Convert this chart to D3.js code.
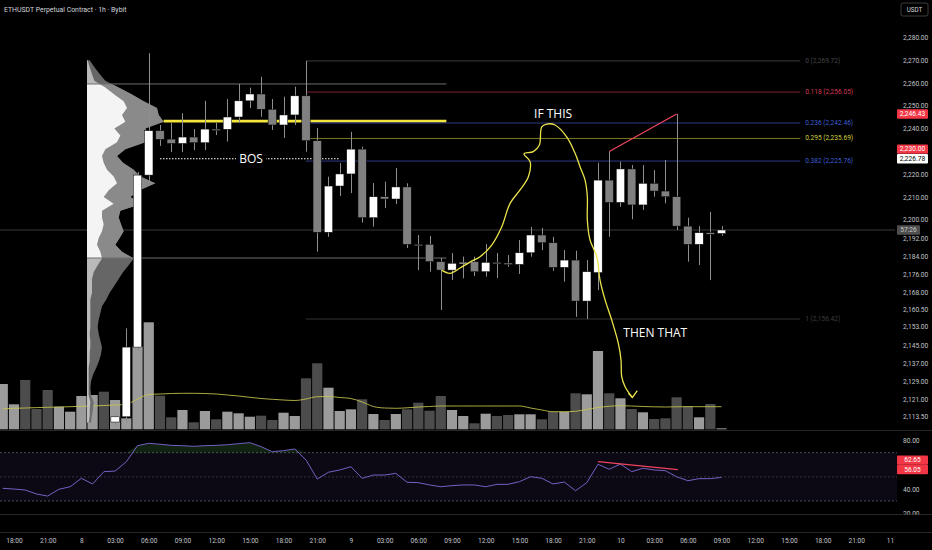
<!DOCTYPE html>
<html>
<head>
<meta charset="utf-8">
<script src="https://cdn.jsdelivr.net/npm/d3@7"></script>
<style>
  html, body { margin: 0; padding: 0; background: #000; overflow: hidden; }
  svg { display: block; font-family: "Open Sans", "Noto Sans", sans-serif; }
</style>
</head>
<body>
<script>
// ---- data (time index = hours after 7th 18:00) ----
var candleStart = 9;
var opens  = [2111.2,2113.5,2144.1,2219.6,2239.1,2235.4,2233.5,2236.3,2233.8,2239.8,2239.7,2245.1,2252.2,2255.2,2248.5,2241.6,2246.0,2254.4,2234.7,2194.5,2214.8,2220.1,2231.0,2200.9,2210.1,2209.1,2214.4,2189.2,2189.2,2181.6,2177.9,2180.9,2181.6,2177.2,2181.3,2181.0,2180.4,2185.5,2193.3,2189.9,2179.1,2182.3,2164.3,2176.8,2217.4,2207.6,2222.3,2206.5,2216.0,2212.6,2210.1,2197.2,2189.2,2194.3,2194.0];
var highs  = [2115.0,2152.3,2221.0,2273.1,2241.6,2242.5,2246.8,2239.8,2252.2,2242.5,2253.0,2259.6,2258.0,2262.8,2253.0,2254.0,2258.4,2269.72,2240.3,2218.9,2224.9,2238.6,2232.1,2216.1,2216.7,2222.7,2216.0,2193.3,2192.9,2183.2,2185.4,2183.8,2183.8,2189.3,2185.4,2184.5,2191.1,2196.9,2196.4,2192.5,2186.7,2186.4,2182.3,2225.0,2230.0,2225.5,2224.0,2224.0,2221.8,2226.2,2246.43,2200.9,2197.2,2203.5,2197.2];
var lows   = [2109.5,2111.0,2142.5,2216.1,2232.4,2229.7,2229.7,2230.6,2230.6,2237.2,2234.3,2242.6,2249.0,2245.2,2239.4,2235.9,2241.6,2229.9,2186.0,2192.5,2210.4,2211.7,2198.7,2197.0,2205.1,2206.9,2187.6,2177.9,2177.2,2160.4,2173.5,2174.3,2175.3,2175.0,2174.4,2179.4,2176.2,2183.8,2186.7,2177.6,2172.8,2157.4,2156.42,2169.1,2192.5,2205.7,2200.2,2204.3,2210.1,2207.2,2195.5,2181.6,2180.1,2173.5,2193.0];
var closes = [2113.5,2144.1,2219.6,2239.1,2235.3,2233.5,2236.3,2233.8,2239.8,2239.7,2245.1,2252.2,2255.2,2248.5,2241.6,2246.0,2254.4,2234.7,2194.5,2214.8,2220.1,2231.0,2200.9,2210.1,2209.1,2214.4,2189.2,2189.0,2181.6,2177.9,2180.9,2181.3,2177.2,2181.3,2181.1,2180.6,2185.5,2193.3,2189.9,2179.1,2182.3,2164.3,2177.2,2217.4,2207.6,2222.3,2206.5,2216.0,2212.6,2210.1,2197.2,2189.2,2194.3,2194.2,2195.5];

var volStart = -1;
var volumes = [4530,2500,4930,2030,3930,2260,1760,3330,3430,3760,2930,1100,8260,10700,3360,1200,1930,700,1830,1000,1760,1600,1260,1360,930,1660,1330,5100,6600,4160,1830,2000,3000,1530,930,1530,2000,2660,1860,3330,1930,1330,600,1560,1330,1430,1500,1500,1000,1760,1760,3600,3500,7830,3600,3100,2030,1700,1030,1100,3200,2330,1200,2530,100];
var earlyVolUp = [1,1,0,0,0,1,1,1,1,0];
var volMA = [2050,2100,2130,2170,2200,2230,2260,2300,2330,2380,2430,2500,3030,3480,3530,3580,3600,3600,3580,3530,3430,3330,3200,3080,3000,2930,2880,3030,3260,3280,3180,3080,2730,2280,2130,2100,2150,2230,2280,2330,2330,2330,2330,2330,2330,2330,2330,2130,1930,1760,1760,1800,1980,2180,2300,2360,2330,2280,2250,2230,2250,2260,2260,2260,2260];

var rsiStart = -1;
var rsiVals = [40.5,39.9,39.1,35.8,34.1,39.7,41.8,48.8,44.1,54.3,54.8,62.5,75.8,77.8,77.0,76.1,75.8,75.3,75.8,76.1,76.6,77.5,78.3,75.0,70.8,71.7,73.1,64.0,48.2,53.8,55.7,58.4,48.8,51.5,51.5,52.9,45.5,45.2,43.3,41.8,42.7,43.3,43.3,41.8,43.8,43.8,46.0,50.1,48.8,44.1,45.7,38.5,45.2,60.4,56.3,60.6,54.3,57.1,55.7,55.1,50.1,46.8,48.5,48.5,49.6];

// fixed range volume profile (rows of 3 USDT)
var profStartIdx = 6.5, profEndIdx = 38.5;
var profRows = d3.range(2270, 2110, -3);
var profUp    = [2,8,15,22,55,82,110,120,105,115,82,100,90,55,45,50,60,80,90,65,50,80,45,45,50,45,35,30,40,45,32,20,15,15,15,10,10,10,10,10,8,10,10,8,8,5,5,5,5,5,10,8,8,5];
var profTotal = [8,22,38,55,95,135,170,210,215,230,175,185,175,115,90,108,140,160,205,158,130,165,100,95,102,110,98,85,105,140,125,108,95,82,68,58,45,40,35,32,35,40,45,42,36,28,18,12,10,12,20,18,15,12];
var vaHigh = 2259.6, vaLow = 2183.2, pocPrice = 2243.3;

// fib retracement
var fibStartIdx = 26, fibEndIdx = 70;
var fibLevels = ["0", "0.118", "0.236", "0.295", "0.382", "1"];
var fibPrices = [2269.72, 2256.05, 2242.46, 2235.69, 2225.76, 2156.42];
var fibLineColors  = ["#3c3c3c", "#7d2334", "#2c3a86", "#7a7a24", "#2c3a86", "#333333"];
var fibLabelColors = ["#444444", "#d23a55", "#3d5fd4", "#d2d03c", "#3d5fd4", "#3e3e3e"];

// drawings
var bosIdx = [13, 29], bosPrice = 2226.78, bosTextIdx = 21.1;
var trendIdx = [53, 59], trendPrice = [2230.00, 2246.43];
var rsiTrendIdx = [52, 59.1], rsiTrendVal = [62.65, 56.05];
var curveIdx   = [38.08,38.82,39.72,40.6,41.5,42.54,43.43,44.17,45.06,45.8,45.95,45.41,46.24,46.78,46.99,47.43,48.17,49.21,49.96,50.4,50.85,51.05,51.05,51.29,51.89,52.18,52.63,53.22,53.81,54.05,54.11,54.41,55.06];
var curvePrice = [2177.9,2176.5,2178.8,2181.4,2183.8,2188.9,2196.9,2207.2,2213.1,2218.9,2225.5,2228.9,2229.9,2232.8,2240.8,2242.0,2241.6,2236.4,2229.2,2223.3,2217.4,2210.1,2199.9,2191.1,2183.8,2173.5,2164.8,2156.0,2145.75,2138.4,2131.1,2126.7,2122.0];
var arrowIdx = [54.7, 55.06, 55.5], arrowPrice = [2123.8, 2122.0, 2125.0];
var notes = [{t: "IF THIS", i: 48.0, p: 2246.8}, {t: "THEN THAT", i: 57.1, p: 2150.3}];

// axes
var priceTicks = [2280,2270,2260,2250,2240,2220,2210,2200,2192,2184,2176,2168,2160.5,2153,2145,2137,2129,2121,2113.5];
var rsiTicks = [80, 40, 20];
var timeTickIdx = [0,3,6,9,12,15,18,21,24,27,30,33,36,39,42,45,48,51,54,57,60,63,66,69,72,75,78];
var timeTickLabels = ["18:00","21:00","8","03:00","06:00","09:00","12:00","15:00","18:00","21:00","9","03:00","06:00","09:00","12:00","15:00","18:00","21:00","10","03:00","06:00","09:00","12:00","15:00","18:00","21:00","11"];

// ---- setup ----
var W = 932, H = 550;
var svg = d3.select("body").append("svg").attr("width", W).attr("height", H);
svg.append("rect").attr("width", W).attr("height", H).attr("fill", "#000");

var x = d3.scaleLinear().domain([0, 78]).range([14, 890]);
var y = d3.scaleLinear().domain([2113.5, 2280]).range([416.8, 37.5]);
var yVol = d3.scaleLinear().domain([0, 10000]).range([429.3, 329.3]);
var yRsi = d3.scaleLinear().domain([30, 70]).range([501, 452.7]);
var vpX = d3.scaleLinear().domain([0, 240]).range([x(profStartIdx), x(profStartIdx) + 80]);

var defs = svg.append("defs");
defs.append("clipPath").attr("id", "mainClip").append("rect")
  .attr("x", 0).attr("y", 0).attr("width", 895).attr("height", 430);
defs.append("clipPath").attr("id", "rsiClip").append("rect")
  .attr("x", 0).attr("y", 431).attr("width", 897).attr("height", 83.5);
defs.append("clipPath").attr("id", "rsiAxisClip").append("rect")
  .attr("x", 895).attr("y", 431).attr("width", 37).attr("height", 83.5);
defs.append("clipPath").attr("id", "vaClip").append("rect")
  .attr("x", 0).attr("y", y(vaHigh)).attr("width", 895).attr("height", y(vaLow) - y(vaHigh));

var candles = opens.map(function(o, k) {
  return {i: candleStart + k, o: o, h: highs[k], l: lows[k], c: closes[k]};
});
var vols = volumes.map(function(v, k) {
  var i = volStart + k;
  var c = candles.find(function(d) { return d.i === i; });
  return {i: i, v: v, up: c ? c.c >= c.o : earlyVolUp[k] === 1};
});

// panel separators
[430.5, 514.5, 532.5].forEach(function(yy) {
  svg.append("line").attr("x1", 0).attr("x2", W).attr("y1", yy).attr("y2", yy)
    .attr("stroke", "#262626").attr("stroke-width", 1);
});

var main = svg.append("g").attr("clip-path", "url(#mainClip)");

// last price line
var lastClose = closes[closes.length - 1];
main.append("line").attr("x1", 0).attr("x2", 895)
  .attr("y1", y(lastClose)).attr("y2", y(lastClose))
  .attr("stroke", "#3a3a3a").attr("stroke-width", 1);

// volume bars
main.selectAll(".vol").data(vols).enter().append("rect")
  .attr("x", function(d) { return x(d.i) - 5.1; })
  .attr("y", function(d) { return yVol(d.v); })
  .attr("width", 10.2)
  .attr("height", function(d) { return yVol(0) - yVol(d.v); })
  .attr("fill", function(d) { return d.up ? "#9b9b9b" : "#4c4c4c"; });

// volume moving average
main.append("path")
  .datum(volMA)
  .attr("fill", "none").attr("stroke", "#c9c64e").attr("stroke-opacity", 0.85).attr("stroke-width", 1)
  .attr("d", d3.line()
    .x(function(d, k) { return x(volStart + k); })
    .y(function(d) { return yVol(d); })
    .curve(d3.curveMonotoneX));

// volume profile
function drawProfile(g, upColor, downColor) {
  g.append("path").datum(profRows)
    .attr("fill", downColor)
    .attr("d", d3.area()
      .y(function(p) { return y(p); })
      .x0(vpX(0))
      .x1(function(p, k) { return vpX(profTotal[k]); }));
  g.append("path").datum(profRows)
    .attr("fill", upColor)
    .attr("d", d3.area()
      .y(function(p) { return y(p); })
      .x0(vpX(0))
      .x1(function(p, k) { return vpX(profUp[k]); }));
}
drawProfile(main.append("g").attr("opacity", 0.95), "#c4c4c4", "#6c6c6c");
drawProfile(main.append("g").attr("clip-path", "url(#vaClip)"), "#f4f4f4", "#8a8a8a");

// value area high / low and POC
[vaHigh, vaLow].forEach(function(p) {
  main.append("line")
    .attr("x1", vpX(0)).attr("x2", x(profEndIdx))
    .attr("y1", y(p)).attr("y2", y(p))
    .attr("stroke", "#6e6e6e").attr("stroke-width", 1);
});
main.append("line")
  .attr("x1", vpX(d3.max(profTotal))).attr("x2", x(profEndIdx))
  .attr("y1", y(pocPrice)).attr("y2", y(pocPrice))
  .attr("stroke", "#f3e63c").attr("stroke-width", 2.6);

// fib retracement
fibPrices.forEach(function(p, k) {
  main.append("line")
    .attr("x1", x(fibStartIdx)).attr("x2", x(fibEndIdx))
    .attr("y1", y(p)).attr("y2", y(p))
    .attr("stroke", fibLineColors[k]).attr("stroke-width", 1);
  main.append("text")
    .attr("x", x(fibEndIdx) + 5).attr("y", y(p))
    .attr("dominant-baseline", "middle")
    .attr("font-family", "Roboto").attr("font-size", 6.6)
    .attr("fill", fibLabelColors[k])
    .text(fibLevels[k] + " (" + d3.format(",.2f")(p) + ")");
});

// BOS
main.append("line")
  .attr("x1", x(bosIdx[0])).attr("x2", x(bosIdx[1]))
  .attr("y1", y(bosPrice)).attr("y2", y(bosPrice))
  .attr("stroke", "#ffffff").attr("stroke-width", 1.1).attr("stroke-dasharray", "1.5,1.5");
var bosW = 30;
main.append("rect")
  .attr("x", x(bosTextIdx) - bosW / 2).attr("y", y(bosPrice) - 8)
  .attr("width", bosW).attr("height", 16).attr("fill", "#000");
main.append("text")
  .attr("x", x(bosTextIdx)).attr("y", y(bosPrice))
  .attr("text-anchor", "middle").attr("dominant-baseline", "central")
  .attr("font-size", 12).attr("fill", "#ffffff").text("BOS");

// candles
main.selectAll(".wick").data(candles).enter().append("line")
  .attr("x1", function(d) { return Math.round(x(d.i)) + 0.5; })
  .attr("x2", function(d) { return Math.round(x(d.i)) + 0.5; })
  .attr("y1", function(d) { return y(d.h); })
  .attr("y2", function(d) { return y(d.l); })
  .attr("stroke", "#8e8e8e").attr("stroke-width", 1);
main.selectAll(".body").data(candles).enter().append("rect")
  .attr("x", function(d) { return x(d.i) - 4.2; })
  .attr("y", function(d) { return y(Math.max(d.o, d.c)); })
  .attr("width", 8.4)
  .attr("height", function(d) { return Math.max(1.5, Math.abs(y(d.o) - y(d.c))); })
  .attr("fill", function(d) { return d.c >= d.o ? "#ffffff" : "#808080"; })
  .attr("stroke", "#000").attr("stroke-width", 0.5);

// trend line
main.append("line")
  .attr("x1", x(trendIdx[0])).attr("y1", y(trendPrice[0]))
  .attr("x2", x(trendIdx[1])).attr("y2", y(trendPrice[1]))
  .attr("stroke", "#ef4560").attr("stroke-width", 1.2);

// freehand projection
main.append("path")
  .datum(curveIdx)
  .attr("fill", "none").attr("stroke", "#ebe34a").attr("stroke-width", 1.3)
  .attr("d", d3.line()
    .x(function(d) { return x(d); })
    .y(function(d, k) { return y(curvePrice[k]); })
    .curve(d3.curveCatmullRom));
main.append("path")
  .datum(arrowIdx)
  .attr("fill", "none").attr("stroke", "#ebe34a").attr("stroke-width", 1.3)
  .attr("d", d3.line()
    .x(function(d) { return x(d); })
    .y(function(d, k) { return y(arrowPrice[k]); }));

main.selectAll(".note").data(notes).enter().append("text")
  .attr("x", function(d) { return x(d.i); })
  .attr("y", function(d) { return y(d.p); })
  .attr("text-anchor", "middle").attr("dominant-baseline", "central")
  .attr("font-size", 12).attr("fill", "#ffffff")
  .text(function(d) { return d.t; });

// ---- RSI pane ----
var rsi = svg.append("g").attr("clip-path", "url(#rsiClip)");
rsi.append("rect")
  .attr("x", 0).attr("y", yRsi(70)).attr("width", 897).attr("height", yRsi(30) - yRsi(70))
  .attr("fill", "#7e57c2").attr("fill-opacity", 0.1);
[70, 50, 30].forEach(function(v) {
  rsi.append("line").attr("x1", 0).attr("x2", 897)
    .attr("y1", yRsi(v)).attr("y2", yRsi(v))
    .attr("stroke", "#787b86").attr("stroke-opacity", v === 50 ? 0.35 : 0.6)
    .attr("stroke-dasharray", "2,2").attr("stroke-width", 1);
});
rsi.append("path")
  .datum(rsiVals)
  .attr("fill", "#4caf50").attr("fill-opacity", 0.2)
  .attr("d", d3.area()
    .x(function(d, k) { return x(rsiStart + k); })
    .y0(yRsi(70))
    .y1(function(d) { return yRsi(Math.max(70, d)); }));
rsi.append("path")
  .datum(rsiVals)
  .attr("fill", "none").attr("stroke", "#7460c4").attr("stroke-width", 1)
  .attr("d", d3.line()
    .x(function(d, k) { return x(rsiStart + k); })
    .y(function(d) { return yRsi(d); }));
rsi.append("line")
  .attr("x1", x(rsiTrendIdx[0])).attr("y1", yRsi(rsiTrendVal[0]))
  .attr("x2", x(rsiTrendIdx[1])).attr("y2", yRsi(rsiTrendVal[1]))
  .attr("stroke", "#ef4560").attr("stroke-width", 1.3);

// ---- axes ----
function styleAxis(g) {
  g.select(".domain").remove();
  g.attr("font-family", "Roboto").attr("font-size", 6.6);
  g.selectAll("text").attr("fill", "#c3c5cb");
}
svg.append("g")
  .attr("transform", "translate(903,0)")
  .call(d3.axisRight(y).tickValues(priceTicks).tickFormat(d3.format(",.2f")).tickSize(0).tickPadding(0))
  .call(styleAxis);
svg.append("g")
  .attr("clip-path", "url(#rsiAxisClip)")
  .append("g")
  .attr("transform", "translate(903,0)")
  .call(d3.axisRight(yRsi).tickValues(rsiTicks).tickFormat(d3.format(".2f")).tickSize(0).tickPadding(0))
  .call(styleAxis);
svg.append("g")
  .attr("transform", "translate(0,538)")
  .call(d3.axisBottom(x).tickValues(timeTickIdx)
    .tickFormat(function(d, k) { return timeTickLabels[k]; }).tickSize(0).tickPadding(0))
  .call(styleAxis);

// axis tags
function tag(yc, label, bg, fg, x0, w) {
  svg.append("rect").attr("x", x0).attr("y", yc - 4.7).attr("width", w).attr("height", 9.4)
    .attr("fill", bg).attr("rx", 1);
  svg.append("text").attr("x", x0 + w / 2).attr("y", yc)
    .attr("text-anchor", "middle").attr("dominant-baseline", "central")
    .attr("font-family", "Roboto").attr("font-size", 6.6).attr("fill", fg).text(label);
}
var priceTags = [
  {p: 2226.78, bg: "#ffffff", fg: "#000000"},
  {p: trendPrice[0], bg: "#f23645", fg: "#ffffff"},
  {p: trendPrice[1], bg: "#f23645", fg: "#ffffff"}
];
var prevY = Infinity;
priceTags.forEach(function(t) {
  var yc = Math.min(y(t.p), prevY - 9.6);
  tag(yc, d3.format(",.2f")(t.p), t.bg, t.fg, 897, 31);
  prevY = yc;
});
tag(y(lastClose), "57:26", "#4f4f4f", "#c8c8c8", 897, 23);
var prevR = Infinity;
rsiTrendVal.slice().sort(d3.ascending).forEach(function(v) {
  var yc = Math.min(yRsi(v), prevR - 9.4);
  tag(yc, d3.format(".2f")(v), "#f23645", "#ffffff", 897, 31);
  prevR = yc;
});

// header
svg.append("text").attr("x", 4).attr("y", 9.5)
  .attr("dominant-baseline", "central")
  .attr("font-family", "Roboto").attr("font-size", 6.9).attr("fill", "#d1d4dc")
  .text("ETHUSDT Perpetual Contract \u00b7 1h \u00b7 Bybit");
svg.append("rect").attr("x", 901).attr("y", 3).attr("width", 27).attr("height", 13).attr("rx", 2)
  .attr("fill", "#000").attr("stroke", "#3c3c3c");
svg.append("text").attr("x", 914.5).attr("y", 9.5)
  .attr("text-anchor", "middle").attr("dominant-baseline", "central")
  .attr("font-family", "Roboto").attr("font-size", 6.3).attr("fill", "#d1d4dc").text("USDT");
</script>
</body>
</html>
